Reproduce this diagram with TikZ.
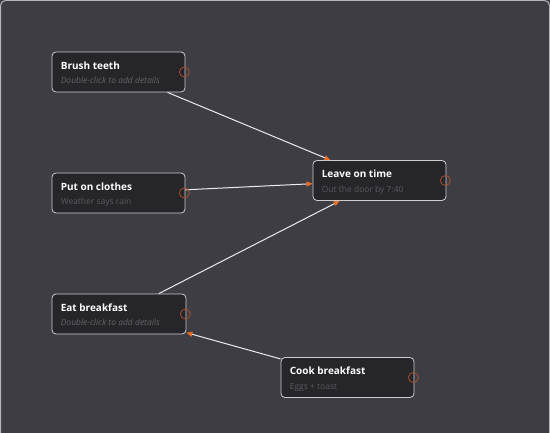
\documentclass[tikz,border=0pt]{standalone}
\usepackage{fontspec}
\setsansfont{Open Sans}
\usepackage{tikz}
\usetikzlibrary{arrows.meta, positioning, calc}
\definecolor{canvas}{RGB}{62,61,68}
\definecolor{cardfill}{RGB}{38,37,41}
\definecolor{cardline}{RGB}{205,205,210}
\definecolor{framegrey}{RGB}{180,180,186}
\definecolor{hintgrey}{RGB}{100,99,105}
\definecolor{detailgrey}{RGB}{90,89,95}
\definecolor{portorange}{RGB}{165,80,45}
\definecolor{tiporange}{RGB}{232,110,40}
\definecolor{linkwhite}{RGB}{236,236,238}
\tikzset{
  card/.style={rectangle, draw=cardline, fill=cardfill, minimum width=133pt,
    minimum height=40pt, rounded corners=4pt, line width=0.8pt, inner sep=0pt},
  cardtitle/.style={anchor=base west, inner sep=0pt, text=white,
    font=\sffamily\bfseries\fontsize{10}{12}\selectfont},
  cardhint/.style={anchor=base west, inner sep=0pt, text=hintgrey,
    font=\sffamily\itshape\fontsize{8.5}{10}\selectfont},
  carddetail/.style={anchor=base west, inner sep=0pt, text=detailgrey,
    font=\sffamily\fontsize{8.5}{10}\selectfont},
  port/.style={circle, draw=portorange, minimum size=10pt, inner sep=0pt,
    line width=0.8pt},
  link/.style={-{Triangle[length=6pt, width=5pt, color=tiporange]},
    color=linkwhite, line width=1pt}
}

\begin{document}
\begin{tikzpicture}[x=1pt, y=-1pt]
  \useasboundingbox (0,0) rectangle (550,433);
  \fill[canvas] (0,0) rectangle (550,433);
  \draw[framegrey, line width=1pt, rounded corners=5pt]
       (0.5,433) -- (0.5,0.5) -- (549.5,0.5) -- (549.5,433);
  % Task cards
  \node[card] (brush) at (118.5,72) {};
  \node[cardtitle] (brushtitle) at ($(brush.north west)+(9,17.5)$) {Brush teeth};
  \node[cardhint] (brushtext) at ($(brush.north west)+(9,32)$) {Double-click to add details};
  \node[card] (clothes) at (118.5,193) {};
  \node[cardtitle] (clothestitle) at ($(clothes.north west)+(9,17.5)$) {Put on clothes};
  \node[carddetail] (clothestext) at ($(clothes.north west)+(9,32)$) {Weather says rain};
  \node[card, minimum width=134pt] (eat) at (119,314) {};
  \node[cardtitle] (eattitle) at ($(eat.north west)+(9,17.5)$) {Eat breakfast};
  \node[cardhint] (eattext) at ($(eat.north west)+(9,32)$) {Double-click to add details};
  \node[card] (leave) at (379.5,180.5) {};
  \node[cardtitle] (leavetitle) at ($(leave.north west)+(9,17.5)$) {Leave on time};
  \node[carddetail] (leavetext) at ($(leave.north west)+(9,32)$) {Out the door by 7:40};
  \node[card] (cook) at (347.5,377.5) {};
  \node[cardtitle] (cooktitle) at ($(cook.north west)+(9,17.5)$) {Cook breakfast};
  \node[carddetail] (cooktext) at ($(cook.north west)+(9,32)$) {Eggs + toast};
  % Dependencies
  \draw[link] (brush) -- (leave);
  \draw[link] (clothes) -- (leave);
  \draw[link] (eat) -- (leave);
  \draw[link] (cook) -- (eat);
  % Output ports
  \node[port] (brushport) at ($(brush.east)+(-1,0)$) {};
  \node[port] (clothesport) at ($(clothes.east)+(-1,0)$) {};
  \node[port] (eatport) at ($(eat.east)+(-1,0)$) {};
  \node[port] (leaveport) at ($(leave.east)+(-1,0)$) {};
  \node[port] (cookport) at ($(cook.east)+(-1,0)$) {};
\end{tikzpicture}
\end{document}
